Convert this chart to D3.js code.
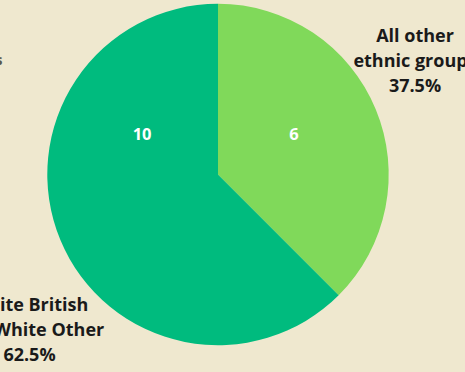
<!DOCTYPE html>
<html>
<head>
<meta charset="utf-8">
<script src="https://cdn.jsdelivr.net/npm/d3@7"></script>
<style>
  html, body { margin: 0; padding: 0; background: #efe8cf; }
  svg { display: block; }
  text { font-family: "Open Sans", "Noto Sans", sans-serif; font-weight: 700; }
</style>
</head>
<body>
<svg id="chart" width="465" height="372"></svg>
<script>
// Ethnic groups, counts per group
const groups = ["All other ethnic groups", "White British and White Other"];
const counts = [6, 10];
const colors = ["#80d95a", "#00bb7e"];
// Outer label lines per group (percentage appended from the data)
const labelLines = [["All other", "ethnic groups"], ["White British", "and White Other"]];

const width = 465, height = 372;
const cx = 218, cy = 174.5, radius = 170.7;

const svg = d3.select("#chart");
svg.append("rect").attr("width", width).attr("height", height).attr("fill", "#efe8cf");

// fragment of a neighbouring caption at the left edge
svg.append("text")
  .attr("x", 2.5).attr("y", 65)
  .attr("text-anchor", "end")
  .attr("font-size", 14)
  .attr("fill", "#5a5648")
  .text("s");

const data = groups.map((g, i) => ({ group: g, count: counts[i], color: colors[i], lines: labelLines[i] }));
const total = d3.sum(counts);

const pie = d3.pie().value(d => d.count).sort(null);
const arcs = pie(data);
const arc = d3.arc().innerRadius(0).outerRadius(radius);

const g = svg.append("g").attr("transform", `translate(${cx},${cy})`);

g.selectAll("path.slice")
  .data(arcs)
  .join("path")
  .attr("class", "slice")
  .attr("d", arc)
  .attr("fill", d => d.data.color);

// value labels inside the slices, placed on the upper half of the pie
const innerR = 86;
const innerAngle = [62, -62].map(a => a * Math.PI / 180);
g.selectAll("text.value")
  .data(arcs)
  .join("text")
  .attr("class", "value")
  .attr("x", (d, i) => innerR * Math.sin(innerAngle[i]))
  .attr("y", (d, i) => -innerR * Math.cos(innerAngle[i]) + 6)
  .attr("text-anchor", "middle")
  .attr("font-size", 16.5)
  .attr("fill", "#ffffff")
  .text(d => d.data.count);

// outer category labels with percentage share
const outerPos = [[197, -133], [-188.5, 136.5]];
const lineH = 25;
const fmt = d3.format(".1f");
arcs.forEach((d, i) => {
  const lines = d.data.lines.concat([fmt(d.data.count / total * 100) + "%"]);
  const t = g.append("text")
    .attr("text-anchor", "middle")
    .attr("font-size", 18)
    .attr("fill", "#1a1a1a");
  lines.forEach((ln, j) => {
    t.append("tspan")
      .attr("x", outerPos[i][0])
      .attr("y", outerPos[i][1] + j * lineH)
      .text(ln);
  });
});
</script>
</body>
</html>
